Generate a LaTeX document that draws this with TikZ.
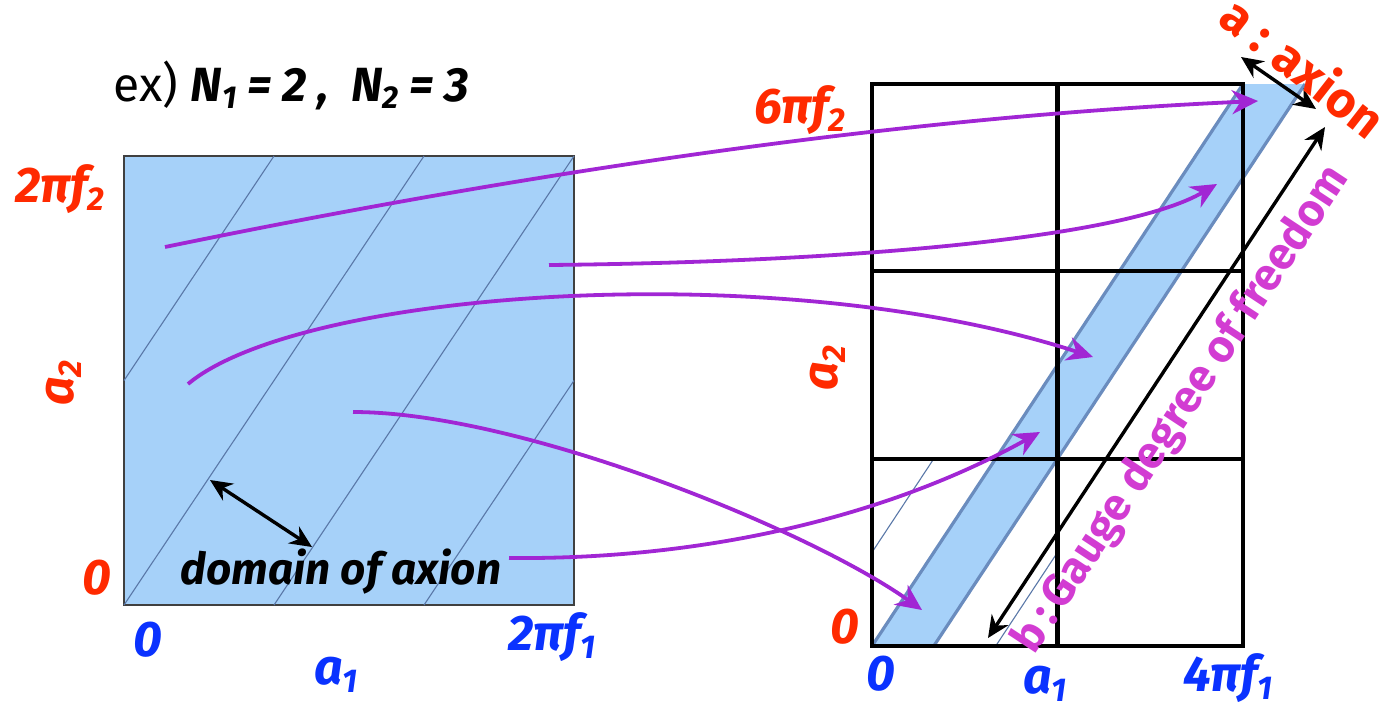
\documentclass[tikz,border=0pt]{standalone}
\usepackage{fontspec}
\setmainfont{Fira Sans}
\usepackage{graphicx}
\usetikzlibrary{arrows.meta}

\definecolor{axred}{HTML}{FF2A00}
\definecolor{axblue}{HTML}{0A32FF}
\definecolor{mappurple}{HTML}{A126D4}
\definecolor{gaugepink}{HTML}{D23CD2}
\definecolor{domfill}{HTML}{A6D1F9}
\definecolor{domline}{HTML}{5A78A8}
\definecolor{bandedge}{HTML}{6A8CBE}

\newcommand{\lsub}[1]{\raisebox{-0.3ex}{\scalebox{0.66}{#1}}}

\begin{document}
\begin{tikzpicture}[x=0.5pt, y=-0.5pt,
    lbl/.style={font=\fontsize{25}{28}\selectfont\bfseries\itshape, inner sep=0pt},
    redlbl/.style={lbl, text=axred},
    bluelbl/.style={lbl, text=axblue},
    thindom/.style={draw=domline, line width=0.55pt},
    gridline/.style={line width=2.1pt},
    bandline/.style={draw=bandedge, line width=1.6pt},
    maparrow/.style={draw=mappurple, line width=1.9pt, -{Stealth[length=13pt,width=12pt]}},
    blkarrow/.style={line width=1.7pt, {Stealth[length=11pt,width=10pt]}-{Stealth[length=11pt,width=10pt]}}]

    \useasboundingbox (0,0) rectangle (1384,707);

    % Title
    \node[anchor=west, inner sep=0pt, font=\fontsize{24}{27}\selectfont] (title) at (113,85)
        {ex) \textbf{\textit{N\lsub{1}\ =\ 2 ,\ \ N\lsub{2}\ =\ 3}}};

    % Left square: one period of (a1,a2)
    \draw[draw=black!75, line width=1pt, fill=domfill] (124,156) rectangle (574,605);
    \draw[thindom] (124,380.5) -- (274,156);
    \draw[thindom] (124,605) -- (424,156);
    \draw[thindom] (274,605) -- (574,156);
    \draw[thindom] (424,605) -- (574,380.5);

    \node[redlbl] (ltop) at (60,189) {2πf\lsub{2}};
    \node[redlbl, rotate=90] (lay) at (64,383) {a\lsub{2}};
    \node[redlbl] (lzero) at (97,578) {0};
    \node[bluelbl] (bzero) at (148,640) {0};
    \node[bluelbl] (lax) at (336,675) {a\lsub{1}};
    \node[bluelbl] (lright) at (552,637) {2πf\lsub{1}};
    \node[lbl, font=\fontsize{22}{26}\selectfont\bfseries\itshape] (dom) at (341,572) {domain of axion};

    \coordinate (w1) at (210,480);
    \coordinate (w2) at (312,547);
    \draw[blkarrow] (w1) -- (w2);

    % Right: 2 x 3 cells with the axion band
    \fill[domfill] (872,646) -- (933.8,646) -- (1305,84) -- (1243,84) -- cycle;
    \draw[bandline] (872,646) -- (1243,84);
    \draw[bandline] (933.8,646) -- (1305,84);
    \draw[thindom] (872,552.3) -- (933.8,458.7);
    \draw[thindom] (995.7,646) -- (1057.5,552.3);

    \draw[gridline] (872,84) rectangle (1243,646);
    \draw[gridline] (1057.5,84) -- (1057.5,646);
    \draw[gridline] (872,271.3) -- (1243,271.3);
    \draw[gridline] (872,458.7) -- (1243,458.7);

    \node[redlbl] (rtop) at (800,110) {6πf\lsub{2}};
    \node[redlbl, rotate=90] (ray) at (828,368) {a\lsub{2}};
    \node[redlbl] (rzero) at (845,627) {0};
    \node[bluelbl] (rbzero) at (881,674) {0};
    \node[bluelbl] (rax) at (1045,684) {a\lsub{1}};
    \node[bluelbl] (rright) at (1228,678) {4πf\lsub{1}};

    % axion and gauge directions
    \coordinate (ax1) at (1241,57);
    \coordinate (ax2) at (1316,109);
    \draw[blkarrow] (ax1) -- (ax2);
    \node[lbl, font=\fontsize{25}{28}\selectfont\bfseries, text=axred, rotate=-38] (axname) at (1304,66) {a : axion};

    \coordinate (g1) at (1325,127);
    \coordinate (g2) at (988,638);
    \draw[blkarrow] (g1) -- (g2);
    \node[lbl, font=\fontsize{22.5}{26}\selectfont\bfseries, text=gaugepink, rotate=56.6] (gauge) at (1182,410) {b\,:\,Gauge degree of freedom};

    % Maps from the square to the band
    \coordinate (m1s) at (165,247);  \coordinate (m1e) at (1258,101);
    \coordinate (m2s) at (549,265);  \coordinate (m2e) at (1217,184);
    \coordinate (m3s) at (188,384);  \coordinate (m3e) at (1093,357);
    \coordinate (m4s) at (353,412);  \coordinate (m4e) at (922,610);
    \coordinate (m5s) at (509,558);  \coordinate (m5e) at (1040,432);
    \draw[maparrow] (m1s) .. controls (525,173) and (898,117) .. (m1e);
    \draw[maparrow] (m2s) .. controls (850,262) and (1125,238) .. (m2e);
    \draw[maparrow] (m3s) .. controls (300,290) and (780,255) .. (m3e);
    \draw[maparrow] (m4s) .. controls (520,412) and (810,530) .. (m4e);
    \draw[maparrow] (m5s) .. controls (720,560) and (900,510) .. (m5e);
\end{tikzpicture}
\end{document}
